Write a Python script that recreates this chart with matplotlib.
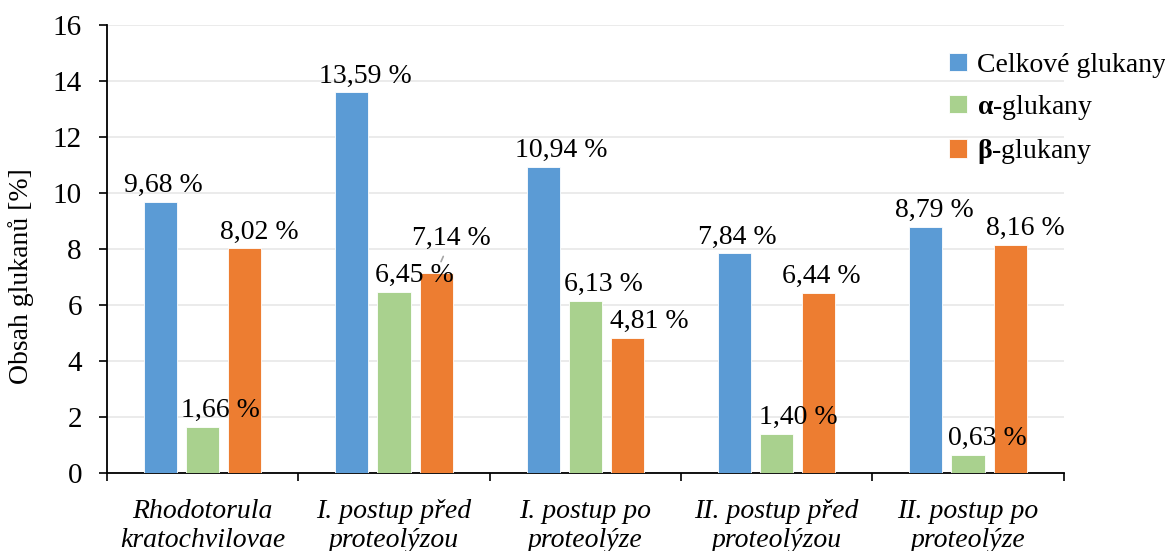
import numpy as np
import matplotlib
matplotlib.use('Agg')
import matplotlib.pyplot as plt

plt.rcParams['font.family'] = ['Liberation Serif', 'DejaVu Serif']
plt.rcParams['mathtext.fontset'] = 'custom'
plt.rcParams['mathtext.rm'] = 'Liberation Serif'
plt.rcParams['mathtext.bf'] = 'Liberation Serif:bold'

categories = ['Rhodotorula\nkratochvilovae', 'I. postup před\nproteolýzou',
              'I. postup po\nproteolýze', 'II. postup před\nproteolýzou',
              'II. postup po\nproteolýze']
series_names = ['Celkové glukany', r'$\mathbf{α}$-glukany', r'$\mathbf{β}$-glukany']
celkove = [9.68, 13.59, 10.94, 7.84, 8.79]
alfa = [1.66, 6.45, 6.13, 1.40, 0.63]
beta = [8.02, 7.14, 4.81, 6.44, 8.16]
colors = ['#5B9BD5', '#A9D18E', '#ED7D31']

# label nudges in pixels (x), as placed in the original chart
label_dx = [[3, 14, 18, 3, 8],
            [18, 20, 18, 22, 19],
            [15, 15, 22, 3, 15]]

fig = plt.figure(figsize=(11.65, 5.51), dpi=100)
ax = fig.add_axes([0.0918, 0.1416, 0.8212, 0.813])

x = np.arange(len(categories))
width = 0.173
step = 0.22
data = [celkove, alfa, beta]
for i, vals in enumerate(data):
    pos = x + (i - 1) * step
    ax.bar(pos, vals, width, color=colors[i], label=series_names[i],
           edgecolor='white', linewidth=0.6, zorder=3)
    for j, v in enumerate(vals):
        txt = ('%.2f %%' % v).replace('.', ',')
        dy = 10
        if i == 2 and j == 1:
            dy = 28
            ax.annotate(txt, xy=(pos[j], v), xytext=(label_dx[i][j], dy),
                        textcoords='offset pixels', ha='center', va='baseline',
                        fontsize=20,
                        arrowprops=dict(arrowstyle='-', color='#A6A6A6',
                                        shrinkA=2, shrinkB=9, lw=1.2))
            continue
        ax.annotate(txt, xy=(pos[j], v), xytext=(label_dx[i][j], dy),
                    textcoords='offset pixels', ha='center', va='baseline',
                    fontsize=20, zorder=4)

ax.set_ylim(0, 16)
ax.set_yticks(np.arange(0, 17, 2))
ax.set_xlim(-0.5, len(categories) - 0.5)
ax.set_xticks(x)
ax.set_xticklabels(categories, fontstyle='italic', fontsize=20, linespacing=1.2)
ax.set_xticks(np.arange(-0.5, len(categories)), minor=True)
ax.tick_params(axis='x', which='major', length=0, pad=19)
ax.tick_params(axis='x', which='minor', length=6, width=1.2, direction='out')
ax.tick_params(axis='y', labelsize=21, length=6, width=1.2, direction='out', pad=12)

ax.grid(axis='y', color='#E8E8E8', linewidth=1.2, zorder=0)
ax.set_axisbelow(True)
for s in ['top', 'right']:
    ax.spines[s].set_visible(False)
ax.spines['left'].set_linewidth(1.3)
ax.spines['bottom'].set_linewidth(1.3)

ax.set_ylabel('Obsah glukanů [%]', fontsize=20)
ax.yaxis.set_label_coords(-0.076, 0.44)

fig.legend(loc='upper left', bbox_to_anchor=(0.793, 0.95), frameon=False,
           fontsize=20, handlelength=0.65, handleheight=0.65, handletextpad=0.35,
           labelspacing=0.55)

fig.savefig('out.png', dpi=100)
